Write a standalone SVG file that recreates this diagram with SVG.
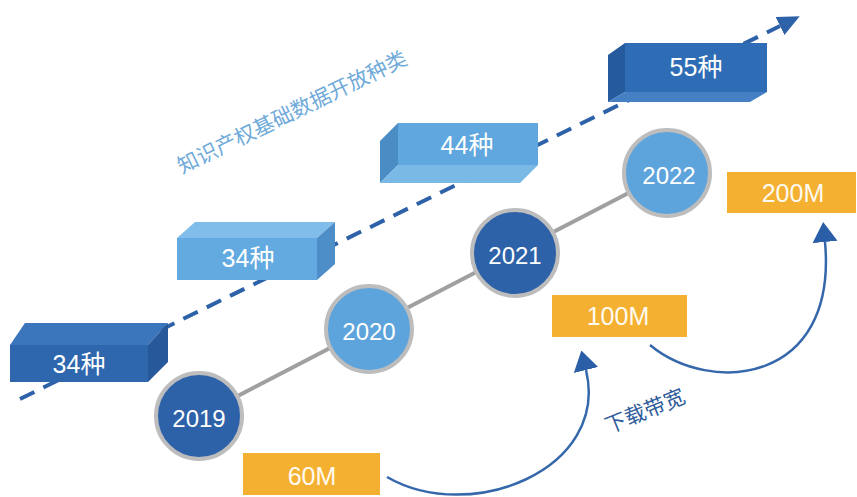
<svg xmlns="http://www.w3.org/2000/svg" width="857" height="497" viewBox="0 0 857 497">
<style>
.t{font-family:"Liberation Sans","Noto Sans CJK SC",sans-serif;fill:#fff;text-anchor:middle}
.box{font-size:25px}
.yr{font-size:24px}
.mb{font-size:25px;fill:#fffaf0}
.orange{fill:#f4b030}
.ring{stroke:#bdbdbd;stroke-width:4}
.cap{font-family:"Noto Sans CJK SC","Liberation Sans",sans-serif;text-anchor:middle}
</style>
<defs>
<marker id="ah" viewBox="0 -11 22 22" refX="0" refY="0" markerWidth="22" markerHeight="22" markerUnits="userSpaceOnUse" orient="auto">
<path d="M0,-10 L22,0 L0,10 z" fill="#2e62a8"/>
</marker>
<marker id="ah2" viewBox="0 -13 20 26" refX="0" refY="0" markerWidth="20" markerHeight="26" markerUnits="userSpaceOnUse" orient="auto">
<path d="M0,-12.5 L20,0 L0,12.5 z" fill="#2a5ea6"/>
</marker>
</defs>
<rect width="857" height="497" fill="#fff"/>
<g id="connectors">
<path d="M20 399 L780 26" fill="none" stroke="#2e62a8" stroke-width="4" stroke-dasharray="16 10" marker-end="url(#ah)"/>
<path d="M199 416 L667 173" fill="none" stroke="#a0a0a0" stroke-width="4"/>
<path d="M387 477 C470 525,610 470,586 370" fill="none" stroke="#3567ab" stroke-width="2.5" marker-end="url(#ah2)"/>
<path d="M650 345 C710 395,838 385,825 242" fill="none" stroke="#3567ab" stroke-width="2.5" marker-end="url(#ah2)"/>
</g>
<g id="title">
<text class="cap" transform="translate(292,112) rotate(-26)" y="7.5" font-size="21" fill="#6faad9">知识产权基础数据开放种类</text>
</g>
<g id="box1">
<polygon points="10,345 25,323 168,323 148,345" fill="#3b75bb"/>
<polygon points="148,345 168,323 168,362 148,382" fill="#26589a"/>
<rect x="10" y="345" width="138" height="37" fill="#2f67ae"/>
<text class="t box" x="79" y="373">34种</text>
</g>
<g id="box2">
<polygon points="177,238 195,222 335,222 317,238" fill="#80bdea"/>
<polygon points="317,238 335,222 335,264 317,280" fill="#4d8ec8"/>
<rect x="177" y="238" width="140" height="42" fill="#62aae0"/>
<text class="t box" x="248" y="267">34种</text>
</g>
<g id="box3">
<polygon points="380,141 398,123 398,165 380,183" fill="#4a8cc4"/>
<polygon points="398,165 538,165 520,183 380,183" fill="#7ab8e6"/>
<rect x="398" y="123" width="140" height="42" fill="#5fa7de"/>
<text class="t box" x="467" y="154">44种</text>
</g>
<g id="box4">
<polygon points="608,55 625,43 625,92 608,102" fill="#255a9c"/>
<polygon points="625,92 767,92 750,102 608,102" fill="#4680c4"/>
<rect x="625" y="43" width="142" height="49" fill="#2e6db5"/>
<text class="t box" x="696" y="76">55种</text>
</g>
<g id="y2019">
<circle class="ring" cx="199" cy="416" r="43" fill="#2d62a9"/>
<text class="t yr" x="199" y="427">2019</text>
</g>
<g id="y2020">
<circle class="ring" cx="369" cy="329" r="43" fill="#5da3dc"/>
<text class="t yr" x="369" y="340">2020</text>
</g>
<g id="y2021">
<circle class="ring" cx="515" cy="253" r="43" fill="#2d62a9"/>
<text class="t yr" x="515" y="264">2021</text>
</g>
<g id="y2022">
<circle class="ring" cx="667" cy="173" r="43" fill="#5da3dc"/>
<text class="t yr" x="669" y="184">2022</text>
</g>
<g id="m60">
<rect class="orange" x="243" y="453" width="137" height="42"/>
<text class="t mb" x="312" y="485">60M</text>
</g>
<g id="m100">
<rect class="orange" x="552" y="295" width="135" height="42"/>
<text class="t mb" x="618" y="325">100M</text>
</g>
<g id="m200">
<rect class="orange" x="727" y="172" width="129" height="41"/>
<text class="t mb" x="793" y="202">200M</text>
</g>
<g id="bandwidth">
<text class="cap" transform="translate(645,411) rotate(-22)" y="7.5" font-size="21" fill="#2e5b9a">下载带宽</text>
</g>
</svg>
